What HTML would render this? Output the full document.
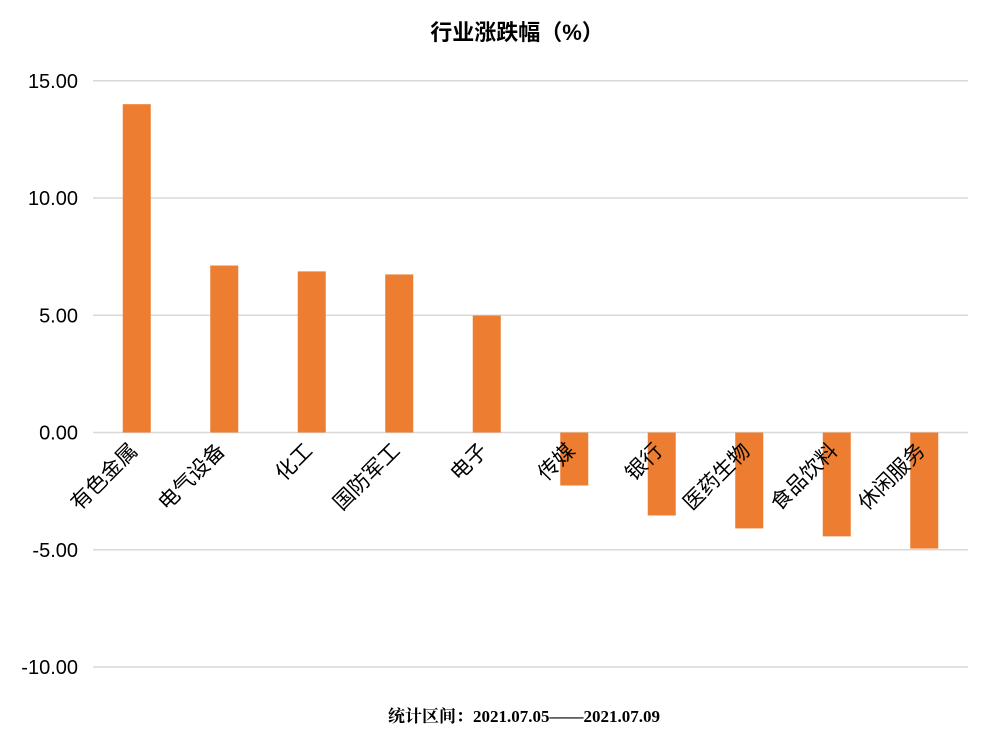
<!DOCTYPE html>
<html><head><meta charset="utf-8"><style>
body{margin:0;background:#fff}
svg{display:block;font-family:"Liberation Sans","Noto Sans CJK SC",sans-serif}
</style></head><body>
<svg id="chart" width="999" height="740">
<text x="517" y="40" text-anchor="middle" font-size="22" font-weight="bold">行业涨跌幅（%）</text>
<g id="grid"></g><g id="bars"></g><g id="labels"></g>
<text x="524" y="722" text-anchor="middle" font-size="17" font-weight="bold" font-family="Liberation Serif, Noto Serif CJK SC, serif">统计区间：2021.07.05——2021.07.09</text>
</svg>
<script>
const categories=["有色金属","电气设备","化工","国防军工","电子","传媒","银行","医药生物","食品饮料","休闲服务"];
const values=[14.0,7.12,6.87,6.74,4.99,-2.26,-3.54,-4.09,-4.43,-4.95];
const ticks=[15,10,5,0,-5,-10];
const tickLabels=["15.00","10.00","5.00","0.00","-5.00","-10.00"];
const ns="http://www.w3.org/2000/svg";
const x0=93,x1=968,yZero=432.5,ppu=23.45;
const y=v=>yZero-v*ppu;
const band=(x1-x0)/categories.length;
const xc=i=>x0+band*(i+0.5);
function mk(t,a,p){const e=document.createElementNS(ns,t);for(const k in a)e.setAttribute(k,a[k]);p.appendChild(e);return e;}
const g=document.getElementById('grid');
ticks.forEach((t,i)=>{
 const l=mk('line',{x1:x0,x2:x1,y1:y(t),y2:y(t),stroke:'#d9d9d9','stroke-width':1.5},g);
 
 
 const tx=mk('text',{x:78,y:y(t)+7,'text-anchor':'end','font-size':20,fill:'#000'},g);
 tx.textContent=tickLabels[i];
 
 
});
const b=document.getElementById('bars'),lb=document.getElementById('labels');
values.forEach((v,i)=>{
 const top=Math.min(y(v),y(0)),h=Math.abs(y(v)-y(0));
 const r=mk('rect',{x:xc(i)-14,y:top,width:28,height:h,fill:'#ed7d31'},b);
 
 
 const ax=xc(i)+2,ay=452;
 const t=mk('text',{x:ax,y:ay,'text-anchor':'end','font-size':21,transform:`rotate(-45 ${ax} ${ay})`},lb);
 t.textContent=categories[i];
 
 
});
</script>
</body></html>
